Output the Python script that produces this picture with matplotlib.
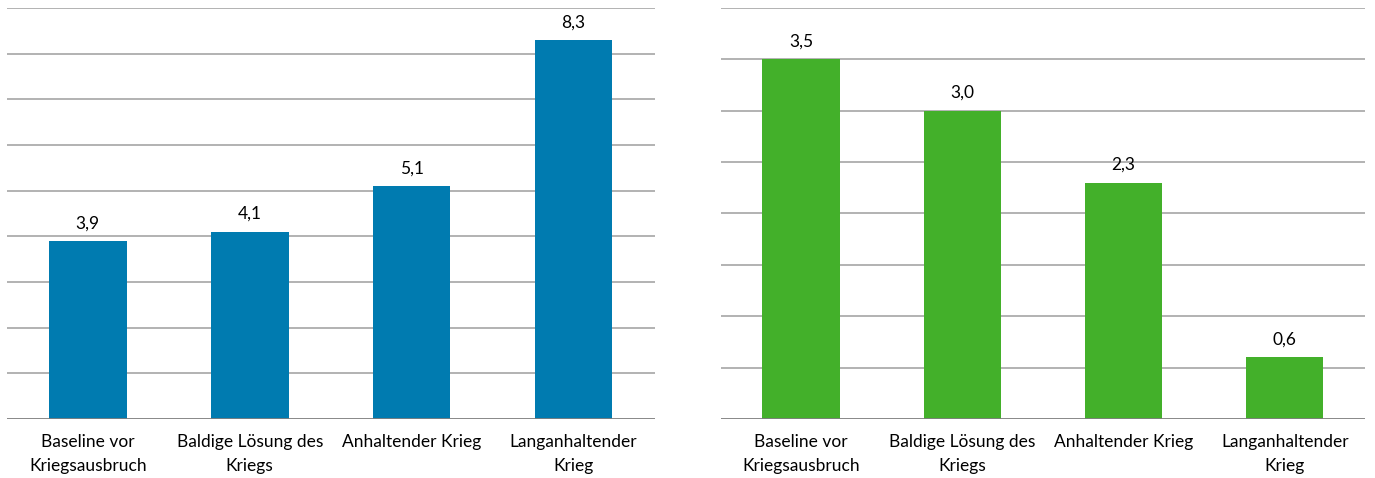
import matplotlib.pyplot as plt

categories_left = ['Baseline vor\nKriegsausbruch', 'Baldige Lösung des\nKriegs',
                   'Anhaltender Krieg', 'Langanhaltender\nKrieg']
categories_right = ['Baseline vor\nKriegsausbruch', 'Baldige Lösung des\nKriegs',
                    'Anhaltender Krieg', 'Langanhaltender\nKrieg']
values_left = [3.9, 4.1, 5.1, 8.3]
values_right = [3.5, 3.0, 2.3, 0.6]

plt.rcParams['font.family'] = ['Lato', 'DejaVu Sans']

fig = plt.figure(figsize=(13.75, 4.78), dpi=100)
ax1 = fig.add_axes([0.005, 0.1234, 0.471, 0.8599])
ax2 = fig.add_axes([0.524, 0.1234, 0.469, 0.8599])


def draw(ax, cats, vals, color, ymax, step):
    x = range(len(cats))
    ax.bar(x, vals, width=0.48, color=color, zorder=3)
    ax.set_xlim(-0.5, len(cats) - 0.5)
    ax.set_ylim(0, ymax)
    y = 0
    while y <= ymax + 1e-9:
        if y > 0:
            ax.axhline(y, color='#a6a6a6', lw=1.2, zorder=1)
        y += step
    ax.axhline(0, color='#7f7f7f', lw=1.3, zorder=4)
    for s in ax.spines.values():
        s.set_visible(False)
    ax.set_yticks([])
    ax.set_xticks(list(x))
    ax.set_xticklabels(cats, fontsize=12.5, linespacing=1.6)
    ax.tick_params(axis='x', length=0, pad=11)
    for i, v in enumerate(vals):
        ax.annotate(f'{v:.1f}'.replace('.', ','), (i, v), xytext=(0, 7),
                    textcoords='offset points', ha='center', va='bottom', fontsize=12.5)


draw(ax1, categories_left, values_left, '#007bb0', 9, 1)
draw(ax2, categories_right, values_right, '#43b02a', 4, 0.5)

plt.savefig('out.png', dpi=100)
